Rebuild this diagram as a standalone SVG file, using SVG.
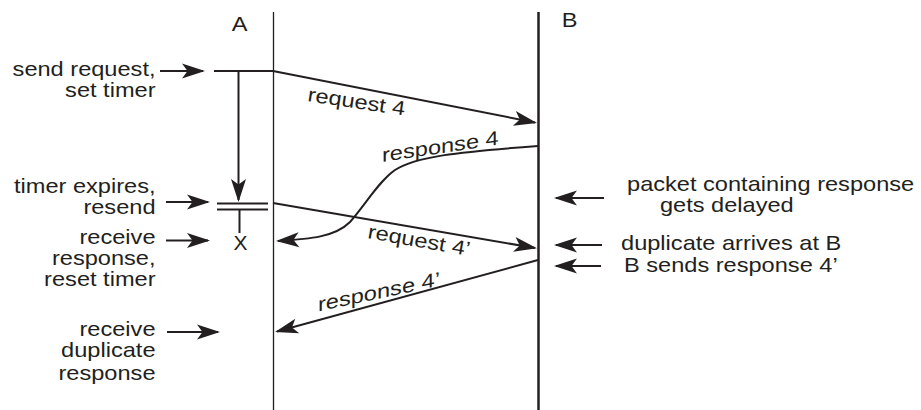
<svg xmlns="http://www.w3.org/2000/svg" width="921" height="410" viewBox="0 0 921 410">
<style>
  text { font-family: "Liberation Sans", Arial, Helvetica, sans-serif; font-size: 20px; fill: #231f20; }
  .ln { stroke: #231f20; fill: none; stroke-width: 2; }
  .arr { stroke: #231f20; fill: none; stroke-width: 2; marker-end: url(#ah); }
</style>
<defs>
  <marker id="ah" viewBox="-23 -9 26 18" refX="0" refY="0" markerWidth="26" markerHeight="18" markerUnits="userSpaceOnUse" orient="auto">
    <path d="M2,0 L-21,-7.5 L-15.5,0 L-21,7.5 Z" fill="#231f20"/>
  </marker>
</defs>
<rect width="921" height="410" fill="#ffffff"/>

<g id="lifeline-A">
  <line x1="273.5" y1="12" x2="273.5" y2="410" stroke="#231f20" stroke-width="1.3"/>
  <g transform="scale(1.18 1)"><text x="196.4" y="31.5">A</text></g>
</g>

<g id="lifeline-B">
  <line x1="538.5" y1="12" x2="538.5" y2="410" stroke="#231f20" stroke-width="2.5"/>
  <g transform="scale(1.18 1)"><text x="476" y="27">B</text></g>
</g>

<g id="timer">
  <path class="ln" d="M214,71 H273" stroke-width="2.5"/>
  <path class="ln" d="M217,203.5 H268 M217,209.5 H268"/>
  <path class="ln" d="M239.5,209.5 V233"/>
  <text x="240.5" y="250" text-anchor="middle" style="font-size:21px">X</text>
</g>

<g id="labels-A" transform="scale(1.18 1)">
  <text x="131.8" y="76" text-anchor="end">send request,</text>
  <text x="131.8" y="97" text-anchor="end">set timer</text>
  <text x="131.8" y="193" text-anchor="end">timer expires,</text>
  <text x="131.8" y="214" text-anchor="end">resend</text>
  <text x="131.8" y="244" text-anchor="end">receive</text>
  <text x="131.8" y="265" text-anchor="end">response,</text>
  <text x="131.8" y="286" text-anchor="end">reset timer</text>
  <text x="131.8" y="336" text-anchor="end">receive</text>
  <text x="131.8" y="357" text-anchor="end">duplicate</text>
  <text x="131.8" y="380" text-anchor="end">response</text>
</g>

<g id="labels-B" transform="scale(1.18 1)">
  <text x="531.4" y="191.5">packet containing response</text>
  <text x="559.3" y="212.5">gets delayed</text>
  <text x="526.3" y="250.5">duplicate arrives at B</text>
  <text x="528.8" y="272">B sends response 4’</text>
</g>

<g id="connectors">
  <path class="arr" d="M238.5,71 V200"/>
  <path class="arr" d="M273,71 L535,122.5"/>
  <path class="arr" d="M538,146 C455,152 415,157 395,170 C380,180 365,205 350,222 C335,237 310,239 278,241"/>
  <path class="arr" d="M273,203 L535,248"/>
  <path class="arr" d="M538,260 L277,331.5"/>
  <path class="arr" d="M160,71 H203"/>
  <path class="arr" d="M166,202 H208"/>
  <path class="arr" d="M166,240.5 H208"/>
  <path class="arr" d="M167,332 H218"/>
  <path class="arr" d="M604,198 H556"/>
  <path class="arr" d="M602,245 H556"/>
  <path class="arr" d="M601,266 H556"/>
</g>

<g id="message-labels">
  <text transform="translate(307,101) rotate(8.5) scale(1.18 1)">request 4</text>
  <text transform="translate(382,162) skewY(-8.5) scale(1.18 1)">response 4</text>
  <text transform="translate(367,238) rotate(10) scale(1.18 1)">request 4’</text>
  <text transform="translate(318,311.5) skewY(-12) scale(1.18 1)">response 4’</text>
</g>
</svg>
